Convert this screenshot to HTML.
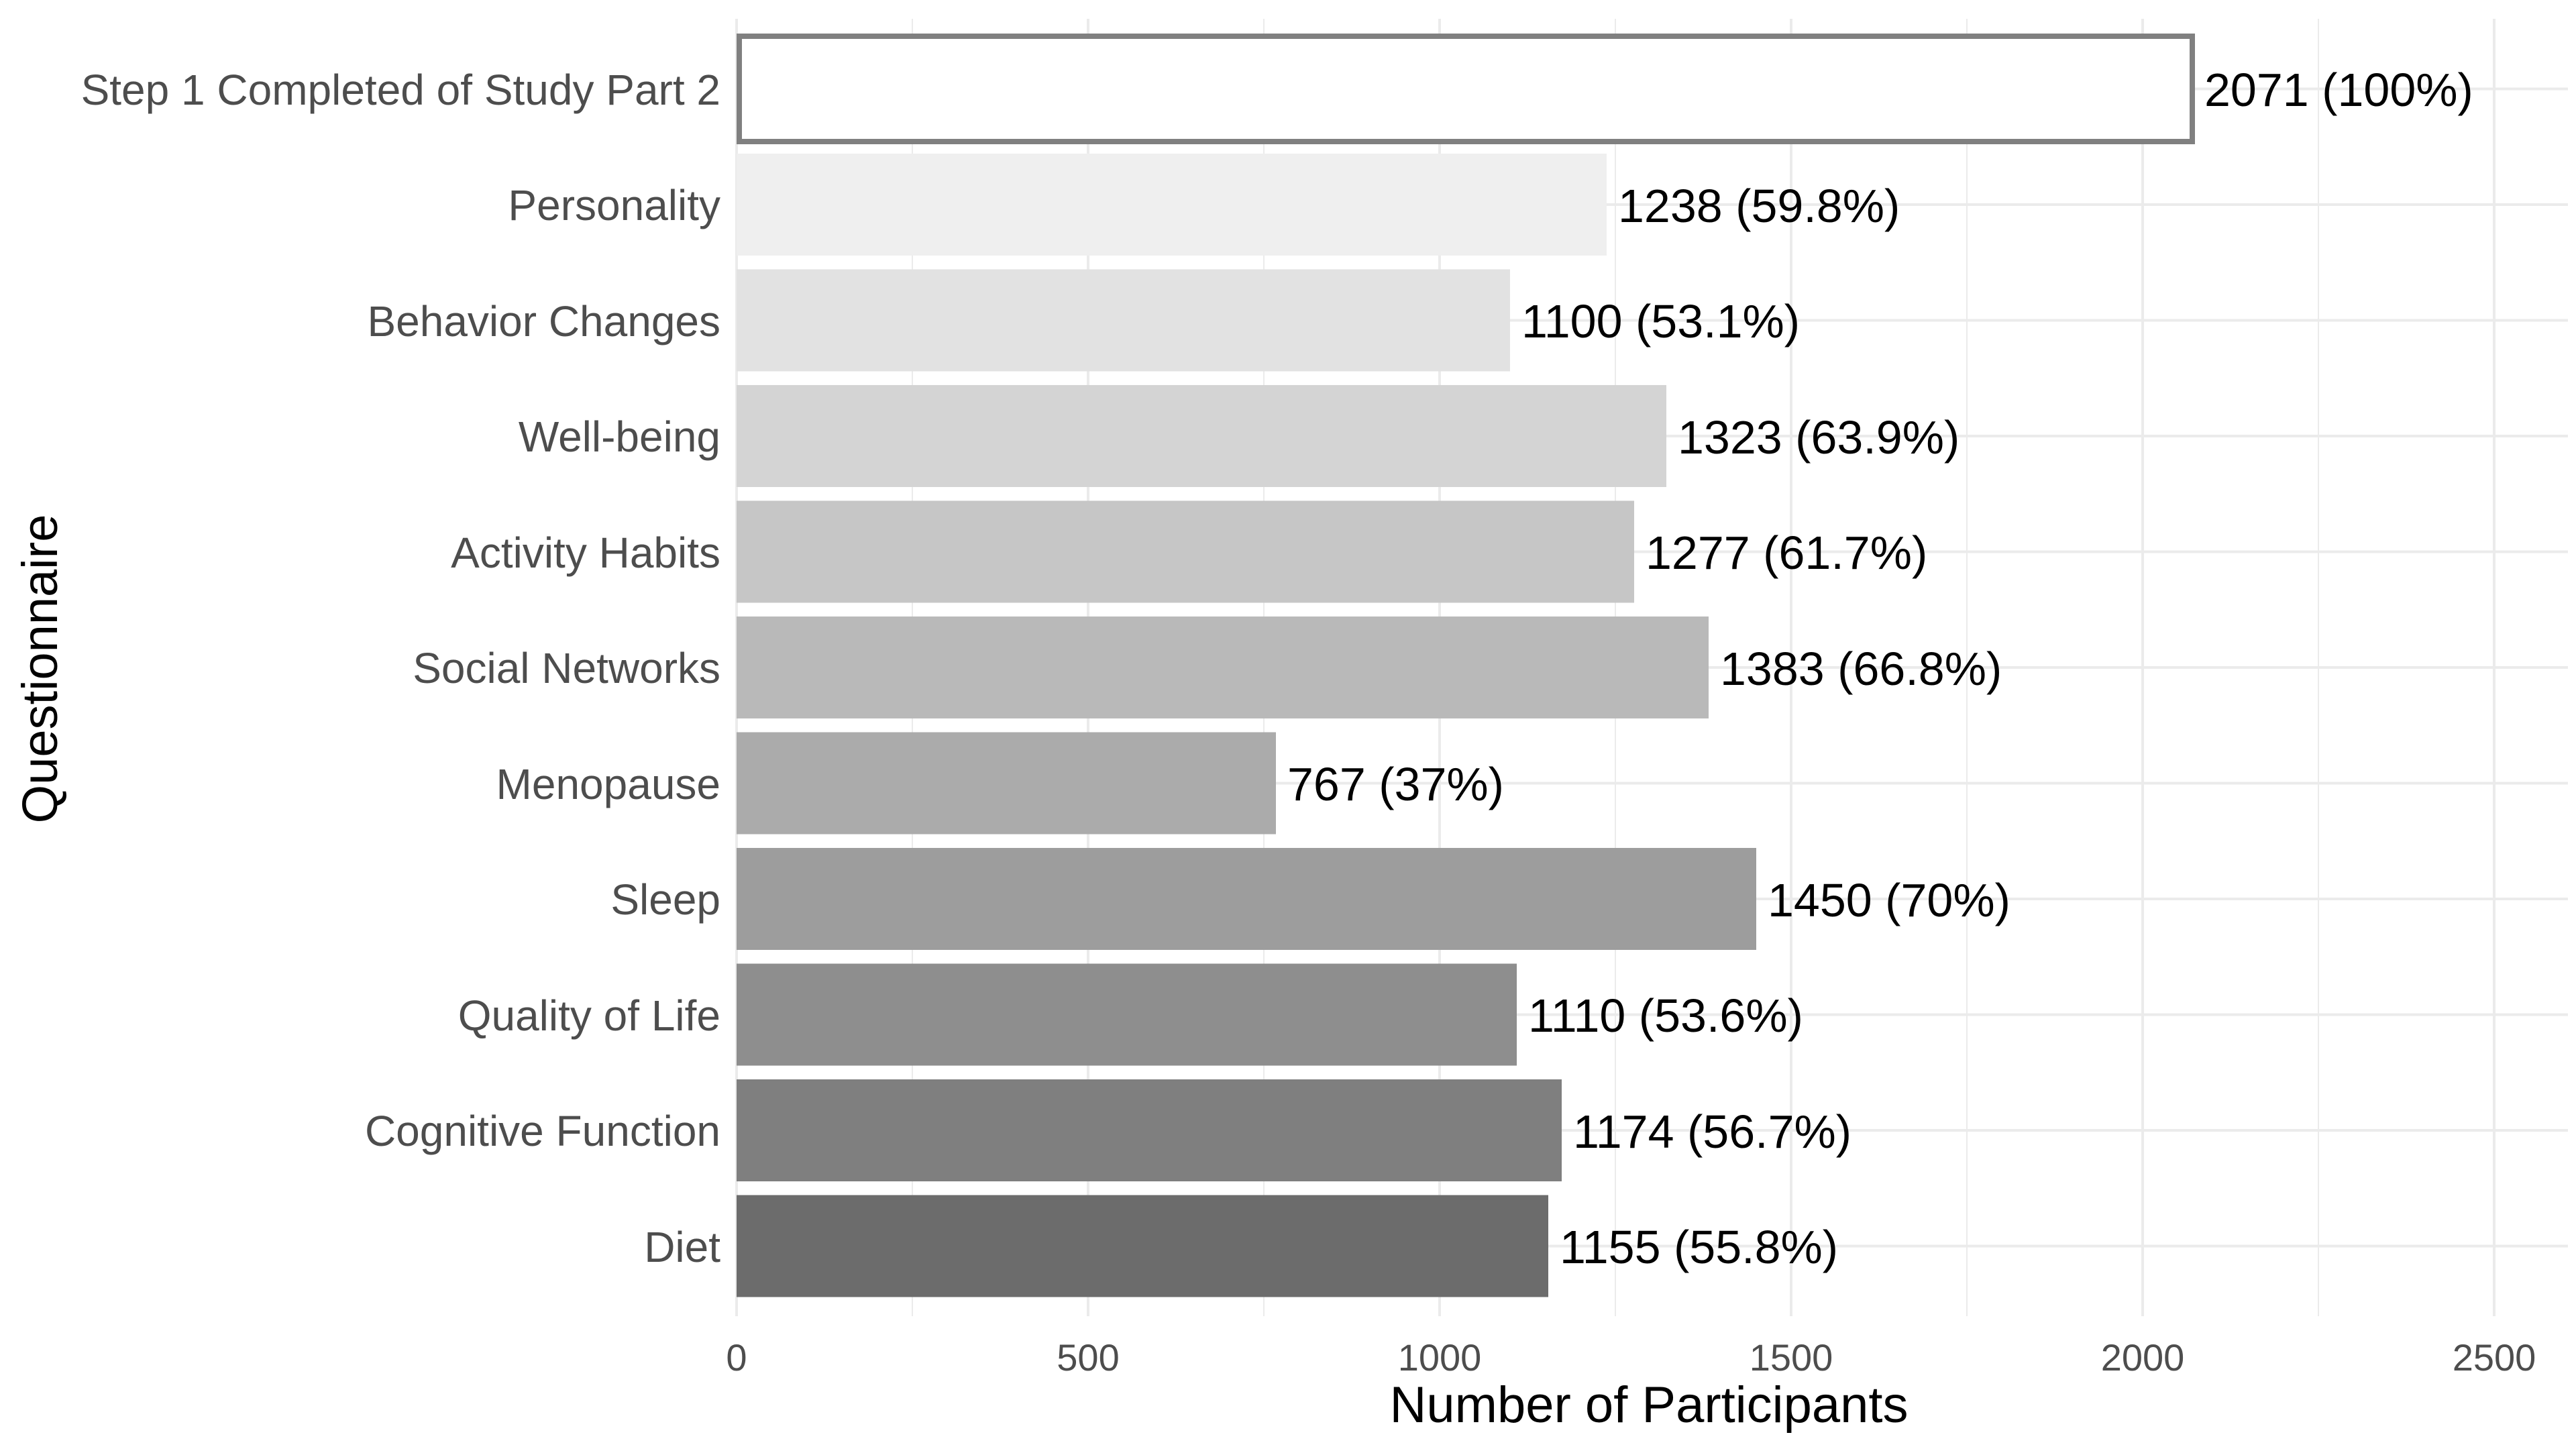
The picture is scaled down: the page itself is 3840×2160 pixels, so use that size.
<!DOCTYPE html>
<html><head><meta charset="utf-8"><style>html,body{margin:0;padding:0;background:#fff}svg{display:block}</style></head>
<body>
<svg width="3840" height="2160" viewBox="0 0 3840 2160" xmlns="http://www.w3.org/2000/svg" font-family="Liberation Sans, Arial, sans-serif">
<g stroke="#ebebeb" stroke-width="2">
<line x1="1360" y1="28" x2="1360" y2="1962"/><line x1="1884" y1="28" x2="1884" y2="1962"/><line x1="2408" y1="28" x2="2408" y2="1962"/><line x1="2932" y1="28" x2="2932" y2="1962"/><line x1="3456" y1="28" x2="3456" y2="1962"/>
</g>
<g stroke="#ebebeb" stroke-width="4">
<line x1="1098" y1="28" x2="1098" y2="1962"/><line x1="1622" y1="28" x2="1622" y2="1962"/><line x1="2146" y1="28" x2="2146" y2="1962"/><line x1="2670" y1="28" x2="2670" y2="1962"/><line x1="3194" y1="28" x2="3194" y2="1962"/><line x1="3718" y1="28" x2="3718" y2="1962"/>
<line x1="1098" y1="132.5" x2="3828" y2="132.5"/><line x1="1098" y1="305" x2="3828" y2="305"/><line x1="1098" y1="477.5" x2="3828" y2="477.5"/><line x1="1098" y1="650" x2="3828" y2="650"/><line x1="1098" y1="822.5" x2="3828" y2="822.5"/><line x1="1098" y1="995" x2="3828" y2="995"/><line x1="1098" y1="1167.5" x2="3828" y2="1167.5"/><line x1="1098" y1="1340" x2="3828" y2="1340"/><line x1="1098" y1="1512.5" x2="3828" y2="1512.5"/><line x1="1098" y1="1685" x2="3828" y2="1685"/><line x1="1098" y1="1857.5" x2="3828" y2="1857.5"/>
</g>
<rect x="1102" y="54" width="2166" height="157" fill="#fff" stroke="#808080" stroke-width="8"/>
<rect x="1098" y="229" width="1297" height="152" fill="#efefef"/>
<rect x="1098" y="401.5" width="1153" height="152" fill="#e2e2e2"/>
<rect x="1098" y="574" width="1386" height="152" fill="#d4d4d4"/>
<rect x="1098" y="746.5" width="1338" height="152" fill="#c6c6c6"/>
<rect x="1098" y="919" width="1449" height="152" fill="#b9b9b9"/>
<rect x="1098" y="1091.5" width="804" height="152" fill="#ababab"/>
<rect x="1098" y="1264" width="1520" height="152" fill="#9d9d9d"/>
<rect x="1098" y="1436.5" width="1163" height="152" fill="#8e8e8e"/>
<rect x="1098" y="1609" width="1230" height="152" fill="#7f7f7f"/>
<rect x="1098" y="1781.5" width="1210" height="152" fill="#6c6c6c"/>
<g font-size="64" fill="#4d4d4d" text-anchor="end">
<text x="1074" y="156">Step 1 Completed of Study Part 2</text>
<text x="1074" y="328">Personality</text>
<text x="1074" y="501">Behavior Changes</text>
<text x="1074" y="673">Well-being</text>
<text x="1074" y="846">Activity Habits</text>
<text x="1074" y="1018">Social Networks</text>
<text x="1074" y="1191">Menopause</text>
<text x="1074" y="1363">Sleep</text>
<text x="1074" y="1536">Quality of Life</text>
<text x="1074" y="1708">Cognitive Function</text>
<text x="1074" y="1881">Diet</text>
</g>
<g font-size="70" fill="#000">
<text x="3286" y="158">2071 (100%)</text>
<text x="2412" y="331">1238 (59.8%)</text>
<text x="2268" y="503">1100 (53.1%)</text>
<text x="2501" y="676">1323 (63.9%)</text>
<text x="2453" y="848">1277 (61.7%)</text>
<text x="2564" y="1021">1383 (66.8%)</text>
<text x="1919" y="1193">767 (37%)</text>
<text x="2635" y="1366">1450 (70%)</text>
<text x="2278" y="1538">1110 (53.6%)</text>
<text x="2345" y="1711">1174 (56.7%)</text>
<text x="2325" y="1883">1155 (55.8%)</text>
</g>
<g font-size="56" fill="#4d4d4d" text-anchor="middle">
<text x="1098" y="2043">0</text><text x="1622" y="2043">500</text><text x="2146" y="2043">1000</text><text x="2670" y="2043">1500</text><text x="3194" y="2043">2000</text><text x="3718" y="2043">2500</text>
</g>
<text x="2458" y="2120" font-size="76" text-anchor="middle" fill="#000">Number of Participants</text>
<text transform="translate(85,997) rotate(-90)" font-size="74" text-anchor="middle" fill="#000">Questionnaire</text>
</svg>
</body></html>
